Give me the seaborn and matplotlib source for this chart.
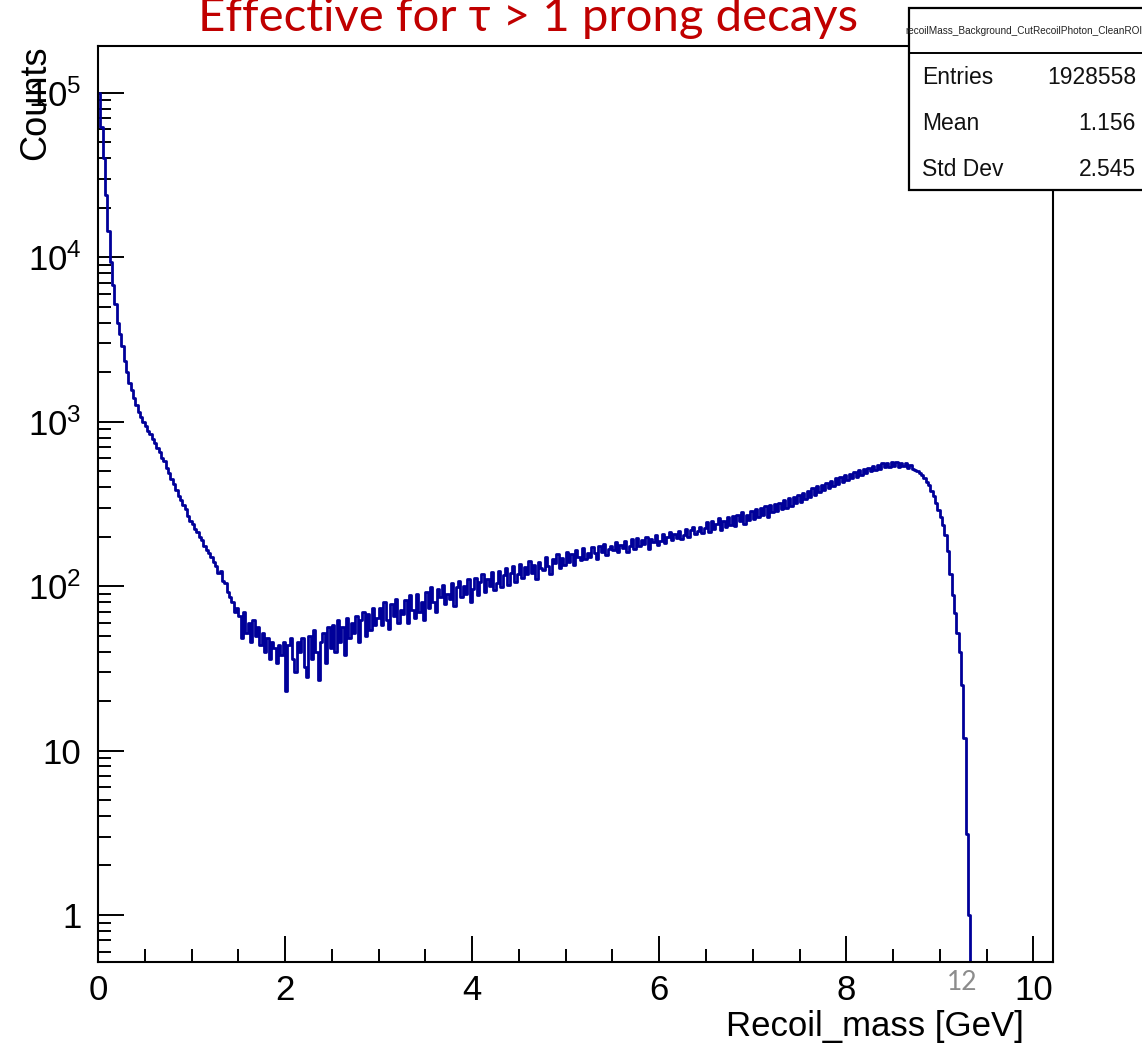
import numpy as np
import pandas as pd
import matplotlib
matplotlib.use("Agg")
import matplotlib.pyplot as plt
import seaborn as sns
from matplotlib.ticker import FixedLocator, FixedFormatter, NullFormatter, MultipleLocator
from matplotlib.patches import Rectangle
from matplotlib.lines import Line2D

# ---------------- data ----------------
bin_width = 0.025
counts = [
    100000, 62000, 40000, 24000, 14400, 9400, 6800, 5200, 4000, 3400,
    2900, 2350, 2000, 1720, 1560, 1390, 1260, 1150, 1060, 1000,
    935, 880, 845, 780, 745, 690, 655, 600, 575, 520,
    490, 445, 420, 385, 355, 335, 310, 292, 268, 250,
    240, 222, 212, 198, 190, 176, 166, 158, 150, 140,
    133, 120, 124, 108, 104, 92, 86, 80, 70, 74,
    66, 48, 70, 52, 60, 46, 62, 50, 56, 44,
    52, 40, 48, 36, 46, 42, 34, 44, 38, 46,
    23, 44, 48, 36, 30, 46, 40, 48, 32, 28,
    50, 36, 54, 40, 27, 46, 52, 34, 56, 42,
    58, 40, 62, 46, 56, 38, 64, 48, 60, 52,
    66, 46, 62, 70, 50, 68, 54, 74, 58, 64,
    74, 58, 80, 62, 55, 78, 66, 84, 60, 72,
    68, 82, 60, 88, 72, 64, 90, 70, 80, 62,
    92, 74, 98, 80, 70, 96, 86, 102, 78, 90,
    84, 104, 76, 98, 108, 86, 100, 90, 110, 80,
    96, 112, 88, 106, 118, 92, 110, 100, 122, 94,
    104, 124, 98, 116, 128, 102, 120, 132, 106, 118,
    136, 112, 130, 118, 142, 120, 134, 110, 140, 128,
    126, 150, 132, 118, 146, 138, 156, 128, 148, 134,
    162, 140, 156, 134, 166, 150, 144, 170, 146, 158,
    150, 172, 158, 146, 176, 162, 180, 154, 168, 174,
    166, 184, 160, 178, 170, 188, 162, 176, 192, 168,
    196, 174, 190, 180, 200, 168, 194, 186, 204, 178,
    188, 208, 182, 200, 214, 190, 206, 196, 216, 192,
    204, 222, 198, 218, 228, 206, 216, 230, 210, 224,
    244, 212, 250, 222, 238, 260, 218, 248, 230, 262,
    236, 268, 232, 272, 248, 282, 240, 270, 252, 286,
    256, 292, 262, 300, 270, 306, 262, 310, 280, 316,
    284, 322, 296, 334, 300, 342, 306, 350, 318, 356,
    326, 368, 338, 380, 350, 392, 360, 404, 372, 412,
    384, 426, 396, 438, 406, 452, 418, 462, 430, 470,
    442, 482, 452, 494, 462, 506, 476, 516, 486, 524,
    500, 536, 508, 546, 518, 556, 526, 562, 532, 566,
    540, 566, 532, 560, 536, 556, 524, 544, 518, 508,
    500, 486, 470, 452, 430, 410, 380, 352, 322, 290,
    262, 236, 205, 163, 119, 88, 69, 52, 40, 25,
    12, 3.1, 1.0, 0, 0, 0, 0, 0, 0, 0,
    0, 0, 0, 0, 0, 0, 0, 0, 0, 0,
    0, 0, 0, 0, 0, 0, 0, 0, 0, 0,
]
y_tick_values = [1, 10, 100, 1000, 10000, 100000]
y_tick_labels = ["1", "10", "$10^{2}$", "$10^{3}$", "$10^{4}$", "$10^{5}$"]
x_tick_values = [0, 2, 4, 6, 8, 10]
x_tick_labels = ["0", "2", "4", "6", "8", "10"]
stats_names = ["Entries", "Mean", "Std Dev"]
stats_values = ["1928558", "1.156", "2.545"]
hist_name = "recoilMass_Background_CutRecoilPhoton_CleanROI"
title_text = "Effective for τ > 1 prong decays"
x_label = "Recoil_mass [GeV]"
y_label = "Counts"

n_bins = len(counts)
centers = (np.arange(n_bins) + 0.5) * bin_width
df = pd.DataFrame({"center": centers, "count": np.asarray(counts, dtype=float)})

# ---------------- style ----------------
sns.set_style("white")
plt.rcParams["font.family"] = ["Liberation Sans", "DejaVu Sans"]
plt.rcParams["mathtext.default"] = "regular"

W, H = 1142, 1046
fig = plt.figure(figsize=(W / 100, H / 100), dpi=100)
fx = lambda px: px / W
fy = lambda py: 1 - py / H

ax = fig.add_axes([fx(98), fy(962), fx(1053) - fx(98), fy(46) - fy(962)])

sns.histplot(data=df, x="center", weights="count", binwidth=bin_width,
             binrange=(0, n_bins * bin_width), element="step",
             fill=False, color="#000099", linewidth=2.0, ax=ax)
ax.set_yscale("log")
ax.set_xlim(0, 10.21)
ax.set_ylim(0.518, 1.92e5)
ax.set_xlabel("")
ax.set_ylabel("")

for s in ax.spines.values():
    s.set_linewidth(1.5)
    s.set_color("black")

ax.xaxis.set_major_locator(FixedLocator(x_tick_values))
ax.xaxis.set_major_formatter(FixedFormatter(x_tick_labels))
ax.xaxis.set_minor_locator(MultipleLocator(0.5))
ax.yaxis.set_major_locator(FixedLocator(y_tick_values))
ax.yaxis.set_major_formatter(FixedFormatter(y_tick_labels))
minor_y = [m * 10 ** e for e in range(-1, 6) for m in range(2, 10)]
ax.yaxis.set_minor_locator(FixedLocator(minor_y))
ax.yaxis.set_minor_formatter(NullFormatter())

ax.tick_params(axis="both", which="both", bottom=True, left=True, top=False, right=False)
ax.tick_params(axis="both", which="major", direction="in", length=19, width=1.4,
               labelsize=25, colors="black")
ax.tick_params(axis="both", which="minor", direction="in", length=9.5, width=1.4,
               colors="black")
ax.tick_params(axis="x", which="major", pad=9)
ax.tick_params(axis="y", which="major", pad=12)

# axis titles (ROOT style)
fig.text(fx(1024), fy(1036), x_label, ha="right", va="baseline", fontsize=25, color="black")
fig.text(fx(36), fy(45), y_label, ha="center", va="top", rotation=90, fontsize=26, color="black")

# overlaid annotation texts
fig.text(fx(528), fy(31), title_text, ha="center", va="baseline", fontsize=34,
         color="#C00000", family=["Lato", "DejaVu Serif"])
fig.text(fx(962), fy(982), "12", ha="center", va="center", fontsize=19,
         color="#8c8c8c", family=["Lato", "DejaVu Sans"])

# stats box
box = Rectangle((fx(909), fy(190)), fx(1160) - fx(909), fy(8) - fy(190),
                transform=fig.transFigure, facecolor="white", edgecolor="black",
                linewidth=1.6, zorder=10)
fig.add_artist(box)
fig.add_artist(Line2D([fx(909), fx(1160)], [fy(53), fy(53)], transform=fig.transFigure,
                      color="black", linewidth=1.4, zorder=11))
fig.text(fx(905), fy(31), hist_name, ha="left", va="center", fontsize=7.2,
         color="#222222", zorder=12)
row_y = [77, 123, 169]
for name, val, ry in zip(stats_names, stats_values, row_y):
    fig.text(fx(922), fy(ry), name, ha="left", va="center", fontsize=16.5,
             color="#111111", zorder=12)
    fig.text(fx(1136), fy(ry), val, ha="right", va="center", fontsize=16.5,
             color="#111111", zorder=12)

fig.savefig("out.png", dpi=100)
